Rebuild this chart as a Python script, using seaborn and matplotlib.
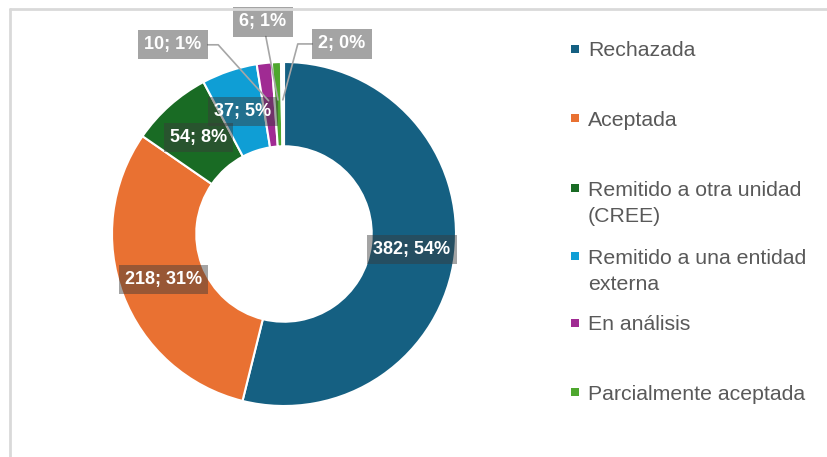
import numpy as np
import matplotlib.pyplot as plt
import seaborn as sns
from matplotlib.patches import Rectangle
from matplotlib.lines import Line2D

# Data
categories = ['Rechazada', 'Aceptada', 'Remitido a otra unidad\n(CREE)',
              'Remitido a una entidad\nexterna', 'En análisis',
              'Parcialmente aceptada', '']
values = [382, 218, 54, 37, 10, 6, 2]
colors = ['#156082', '#E97132', '#196B24', '#0F9ED5', '#A02B93', '#4EA72E', '#FFFFFF']

# layout (pixels in the 828x457 image)
W, H = 828, 457
cx, cy, R = 284, 234, 172
outside_pos = {4: (-0.645, 1.10), 5: (-0.122, 1.233), 6: (0.337, 1.105)}
leader_style = {4: 'angle,angleA=0,angleB=-48,rad=0',
                5: 'arc3',
                6: 'angle,angleA=0,angleB=75,rad=0'}
legend_y = [49, 118, 188, 256, 323, 392]
line_step = 26.5

sns.set_theme(style='white')
plt.rcParams['font.family'] = ['Liberation Sans', 'DejaVu Sans']

fig = plt.figure(figsize=(W / 100, H / 100), dpi=100)
L = 1.3
S = 2 * L * R
ax = fig.add_axes([(cx - S / 2) / W, (H - cy - S / 2) / H, S / W, S / H])

wedges, _ = ax.pie(values, colors=colors, startangle=90, counterclock=False,
                   radius=1, wedgeprops=dict(width=0.49, edgecolor='white', linewidth=1.5))
ax.set_xlim(-L, L)
ax.set_ylim(-L, L)
ax.set_aspect('equal')
ax.axis('off')

total = sum(values)
box = dict(boxstyle='square,pad=0.34', facecolor='#3A3A3A', alpha=0.46, edgecolor='none')
for i, (w, v) in enumerate(zip(wedges, values)):
    mid = np.deg2rad((w.theta1 + w.theta2) / 2)
    txt = f'{v}; {round(100 * v / total)}%'
    if i in outside_pos:
        pt = (0.78 * np.cos(mid), 0.78 * np.sin(mid))
        ax.annotate(txt, xy=pt, xytext=outside_pos[i], ha='center', va='center',
                    color='white', fontsize=13, fontweight='bold', bbox=box,
                    arrowprops=dict(arrowstyle='-', color='#A6A6A6', lw=1.2,
                                    shrinkA=0, shrinkB=0,
                                    connectionstyle=leader_style[i]))
    else:
        ax.text(0.75 * np.cos(mid), 0.75 * np.sin(mid), txt, ha='center', va='center',
                color='white', fontsize=13, fontweight='bold', bbox=box)

# legend drawn by hand to follow the spacing of the original
for lab, col, y0 in zip(categories, colors, legend_y):
    fig.add_artist(Rectangle((571 / W, 1 - (y0 + 4) / H), 8 / W, 8 / H,
                             transform=fig.transFigure, facecolor=col, edgecolor='none'))
    for j, line in enumerate(lab.split('\n')):
        fig.text(588 / W, 1 - (y0 + j * line_step + 7.5) / H, line, va='baseline',
                 ha='left', fontsize=15.3, color='#595959')

# chart area border (top and left edges visible)
fig.add_artist(Line2D([10 / W, 1.01], [1 - 9 / H] * 2, transform=fig.transFigure,
                      color='#D9D9D9', lw=2))
fig.add_artist(Line2D([10 / W] * 2, [-0.01, 1 - 9 / H], transform=fig.transFigure,
                      color='#D9D9D9', lw=2))

fig.savefig('out.png', dpi=100)
